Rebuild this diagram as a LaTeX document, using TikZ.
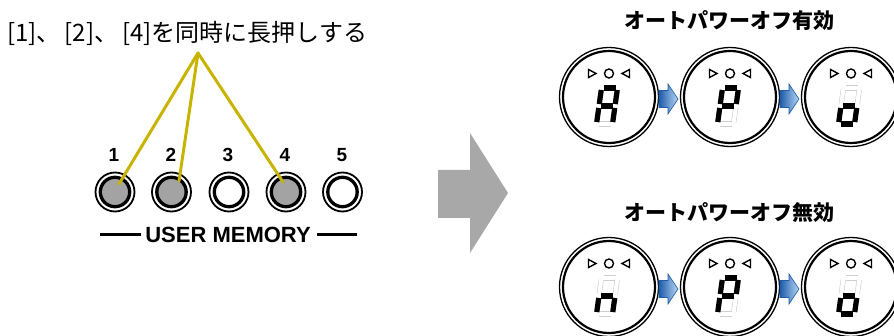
\documentclass[tikz,border=0pt]{standalone}
\usepackage{fontspec}
\setmainfont{Liberation Sans}
\newfontfamily\jpfont{Noto Sans CJK JP}
\usepackage{tikz}

\definecolor{keygray}{HTML}{A3A3A3}
\definecolor{pointeryellow}{HTML}{C8B400}
\definecolor{bigarrowgray}{HTML}{A8A8A8}
\definecolor{segoff}{HTML}{CFCFCF}
\definecolor{flowdark}{HTML}{1E5CAA}
\definecolor{flowlight}{HTML}{B8D6F4}

\begin{document}
\begin{tikzpicture}[x=1pt,y=-1pt]
                \tikzset{key/.style = {circle,draw,line width=3.3pt,minimum size=29.4pt,inner sep=0pt}}
                \tikzset{keyring/.style = {line width=1.8pt}}
                \tikzset{keynum/.style = {inner sep=0pt,font=\bfseries\fontsize{19}{19}\selectfont}}
                \tikzset{pointer/.style = {draw=pointeryellow,line width=3pt,line cap=round}}
                \tikzset{headline/.style = {inner sep=0pt,font=\jpfont\bfseries\fontsize{21}{21}\selectfont}}
                \tikzset{segon/.style = {line width=5.2pt,shorten <=2pt,shorten >=2pt}}
                \tikzset{segoffline/.style = {draw=segoff,line width=0.6pt,double=white,double distance=4pt,shorten <=2pt,shorten >=2pt}}
                \tikzset{flowarrow/.style = {draw=flowdark,line width=0.6pt,left color=flowdark,right color=flowlight}}
                \tikzset{pics/dial/.style = {code = {
                    \draw[line width=1.3pt] (0,0) circle (49.5pt);
                    \draw[line width=2.2pt] (0,0) circle (46pt);
                    \draw[line width=1.4pt] (-20.5,-27.5) -- (-13,-23.5) -- (-20.5,-19.5) -- cycle;
                    \draw[line width=1.4pt] (0,-23.5) circle (4.5pt);
                    \draw[line width=1.4pt] (20.5,-27.5) -- (13,-23.5) -- (20.5,-19.5) -- cycle;
                    \coordinate (-tl) at (-7.5,-9);
                    \coordinate (-tr) at (8.5,-9);
                    \coordinate (-ml) at (-10,9);
                    \coordinate (-mr) at (6,9);
                    \coordinate (-bl) at (-12.5,27);
                    \coordinate (-br) at (3.5,27);
                    \foreach \p/\q in {tl/tr,tr/mr,mr/br,bl/br,ml/bl,tl/ml,ml/mr}
                        \draw[segoffline] (-\p) -- (-\q);
                    \foreach \p/\q in {#1}
                        \draw[segon] (-\p) -- (-\q);
                }}}
                \tikzset{pics/flow/.style = {code = {
                    \draw[flowarrow] (0,-8.5) -- (9,-8.5) -- (9,-15) -- (19,0) -- (9,15) -- (9,8.5) -- (0,8.5) -- cycle;
                }}}
                \path[use as bounding box,clip] (0,0) rectangle (894,336);

                % instruction
                \node[anchor=west,inner sep=0pt,font=\jpfont\fontsize{24}{24}\selectfont] (instr) at (7,33)
                    {[1]、\kern4pt[2]、\kern4pt[4]を同時に長押しする};
                \coordinate (apex) at (198,53);

                % buttons
                \node[keynum] (n1) at (114,155) {1};
                \node[keynum] (n2) at (171,155) {2};
                \node[keynum] (n3) at (228,155) {3};
                \node[keynum] (n4) at (285,155) {4};
                \node[keynum] (n5) at (342,155) {5};

                \node[key, fill=keygray] (b1) at (115,192) {};
                \node[key, fill=keygray] (b2) at (171.5,192) {};
                \node[key, fill=white] (b3) at (229,192) {};
                \node[key, fill=keygray] (b4) at (286,192) {};
                \node[key, fill=white] (b5) at (342.5,192) {};
                \draw[keyring] (b1) circle (19.5pt);
                \draw[keyring] (b2) circle (19.5pt);
                \draw[keyring] (b3) circle (19.5pt);
                \draw[keyring] (b4) circle (19.5pt);
                \draw[keyring] (b5) circle (19.5pt);

                \node[inner sep=0pt,font=\bfseries\fontsize{22}{22}\selectfont] (mem) at (228,235) {USER MEMORY};
                \draw[line width=3pt] ([xshift=-4pt]mem.west) -- ++(-41,0);
                \draw[line width=3pt] ([xshift=6pt]mem.east) -- ++(40,0);

                %pointers
                \coordinate (tip1) at (119,184);
                \coordinate (tip2) at (179,181);
                \coordinate (tip4) at (283,182);
                \draw[pointer] (apex) -- (tip1);
                \draw[pointer] (apex) -- (tip2);
                \draw[pointer] (apex) -- (tip4);

                % big arrow
                \fill[bigarrowgray] (438,170) -- (470,170) -- (470,133) -- (508,193) -- (470,253) -- (470,218) -- (438,218) -- cycle;

                % auto power off on
                \node[headline] (ontitle) at (729,21) {オートパワーオフ有効};
                \pic (on1) at (609,97) {dial={tl/tr,tr/mr,mr/br,ml/bl,tl/ml,ml/mr}};
                \pic (on2) at (730,97) {dial={tl/tr,tr/mr,ml/bl,tl/ml,ml/mr}};
                \pic (on3) at (851,97) {dial={mr/br,bl/br,ml/bl,ml/mr}};
                \pic (onflow1) at (659,99) {flow};
                \pic (onflow2) at (780,99) {flow};

                % auto power off off
                \node[headline] (offtitle) at (729,213) {オートパワーオフ無効};
                \pic (off1) at (609,287) {dial={mr/br,ml/bl,ml/mr}};
                \pic (off2) at (730,287) {dial={tl/tr,tr/mr,ml/bl,tl/ml,ml/mr}};
                \pic (off3) at (851,287) {dial={mr/br,bl/br,ml/bl,ml/mr}};
                \pic (offflow1) at (659,289) {flow};
                \pic (offflow2) at (780,289) {flow};
\end{tikzpicture}
\end{document}
